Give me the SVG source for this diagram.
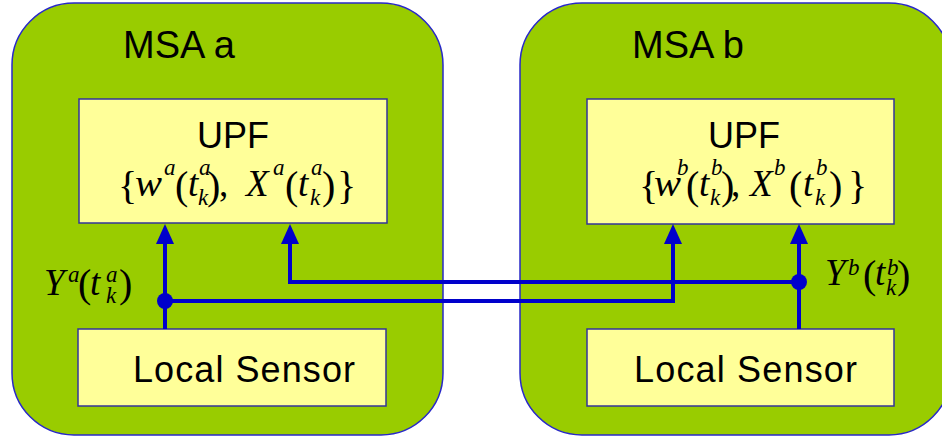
<svg xmlns="http://www.w3.org/2000/svg" width="942" height="438" viewBox="0 0 942 438">
  <style>
    .msa { fill: #99CC00; stroke: #2828C8; stroke-width: 1.5; }
    .blk { fill: #FFFF99; stroke: #33339A; stroke-width: 1.5; }
    .sans { font-family: "Liberation Sans", Arial, sans-serif; fill: #000; }
    .title { font-size: 38px; }
    .lbl { font-size: 36px; }
    .math { font-family: "Liberation Serif", "Times New Roman", serif; fill: #000; font-size: 37px; }
    .it { font-style: italic; }
    .fence { font-size: 40px; font-style: normal; }
    .s { font-size: 23px; font-style: italic; }
    .wire { fill: none; stroke: #0000CC; stroke-width: 4; }
    .dot { fill: #0000CC; }
  </style>
  <defs>
    <marker id="arrow" viewBox="0 0 20 18" refX="10" refY="9" markerWidth="20" markerHeight="18" markerUnits="userSpaceOnUse" orient="auto">
      <path d="M0,0 L20,9 L0,18 z" fill="#0000CC"/>
    </marker>
  </defs>

  <!-- agent a -->
  <g id="msa-a">
    <rect class="msa" x="12" y="3" width="431" height="432" rx="62" ry="62"/>
    <text class="sans title" x="123" y="58">MSA a</text>
  </g>
  <!-- agent b -->
  <g id="msa-b">
    <rect class="msa" x="520" y="3" width="431" height="432" rx="62" ry="62"/>
    <text class="sans title" x="632" y="58">MSA b</text>
  </g>

  <g id="upf-a">
    <rect class="blk" x="79" y="99" width="308" height="124"/>
    <text class="sans lbl" x="197" y="148">UPF</text>
    <text class="math">
      <tspan class="fence" x="118" y="199">{</tspan>
      <tspan class="it" x="135" y="196" textLength="27" lengthAdjust="spacingAndGlyphs">w</tspan>
      <tspan class="s" x="164" y="175">a</tspan>
      <tspan class="fence" x="175" y="199">(</tspan>
      <tspan class="it" x="188" y="196">t</tspan>
      <tspan class="s" x="199" y="175">a</tspan>
      <tspan class="s" x="198" y="205">k</tspan>
      <tspan class="fence" x="207" y="199">)</tspan>
      <tspan x="219" y="196">,</tspan>
      <tspan class="it" x="246" y="196">X</tspan>
      <tspan class="s" x="273" y="175">a</tspan>
      <tspan class="fence" x="285" y="199">(</tspan>
      <tspan class="it" x="298" y="196">t</tspan>
      <tspan class="s" x="311" y="175">a</tspan>
      <tspan class="s" x="310" y="205">k</tspan>
      <tspan class="fence" x="322" y="199">)</tspan>
      <tspan class="fence" x="337" y="199">}</tspan>
    </text>
  </g>

  <g id="upf-b">
    <rect class="blk" x="587" y="99" width="307" height="125"/>
    <text class="sans lbl" x="708" y="148">UPF</text>
    <text class="math">
      <tspan class="fence" x="639" y="199">{</tspan>
      <tspan class="it" x="654" y="196" textLength="27" lengthAdjust="spacingAndGlyphs">w</tspan>
      <tspan class="s" x="677" y="175">b</tspan>
      <tspan class="fence" x="686" y="199">(</tspan>
      <tspan class="it" x="699" y="196">t</tspan>
      <tspan class="s" x="711" y="175">b</tspan>
      <tspan class="s" x="710" y="205">k</tspan>
      <tspan class="fence" x="721" y="199">)</tspan>
      <tspan x="731" y="196">,</tspan>
      <tspan class="it" x="750" y="196">X</tspan>
      <tspan class="s" x="774" y="175">b</tspan>
      <tspan class="fence" x="789" y="199">(</tspan>
      <tspan class="it" x="803" y="196">t</tspan>
      <tspan class="s" x="816" y="175">b</tspan>
      <tspan class="s" x="815" y="205">k</tspan>
      <tspan class="fence" x="829" y="199">)</tspan>
      <tspan class="fence" x="848" y="199">}</tspan>
    </text>
  </g>

  <g id="sensor-a">
    <rect class="blk" x="78" y="329" width="308" height="77"/>
    <text class="sans lbl" x="133" y="382" textLength="222">Local Sensor</text>
  </g>
  <g id="sensor-b">
    <rect class="blk" x="587" y="329" width="307" height="77"/>
    <text class="sans lbl" x="634" y="382" textLength="223">Local Sensor</text>
  </g>

  <!-- measurement labels -->
  <g id="label-ya">
    <text class="math">
      <tspan class="it" x="44" y="295">Y</tspan>
      <tspan class="s" x="68" y="282">a</tspan>
      <tspan class="fence" x="78" y="297">(</tspan>
      <tspan class="it" x="90" y="295">t</tspan>
      <tspan class="s" x="106" y="282">a</tspan>
      <tspan class="s" x="106" y="303">k</tspan>
      <tspan class="fence" x="119" y="297">)</tspan>
    </text>
  </g>
  <g id="label-yb">
    <text class="math">
      <tspan class="it" x="825" y="285">Y</tspan>
      <tspan class="s" x="848" y="275">b</tspan>
      <tspan class="fence" x="863" y="288">(</tspan>
      <tspan class="it" x="875" y="285">t</tspan>
      <tspan class="s" x="887" y="275">b</tspan>
      <tspan class="s" x="886" y="295">k</tspan>
      <tspan class="fence" x="897" y="288">)</tspan>
    </text>
  </g>

  <!-- connectors -->
  <g id="connectors">
    <path class="wire" d="M165,329 V234" marker-end="url(#arrow)"/>
    <path class="wire" d="M165,301 H673 V234" marker-end="url(#arrow)"/>
    <path class="wire" d="M799,329 V234" marker-end="url(#arrow)"/>
    <path class="wire" d="M799,282 H290 V234" marker-end="url(#arrow)"/>
    <circle class="dot" cx="165" cy="301" r="8"/>
    <circle class="dot" cx="799" cy="282" r="8"/>
  </g>
</svg>
